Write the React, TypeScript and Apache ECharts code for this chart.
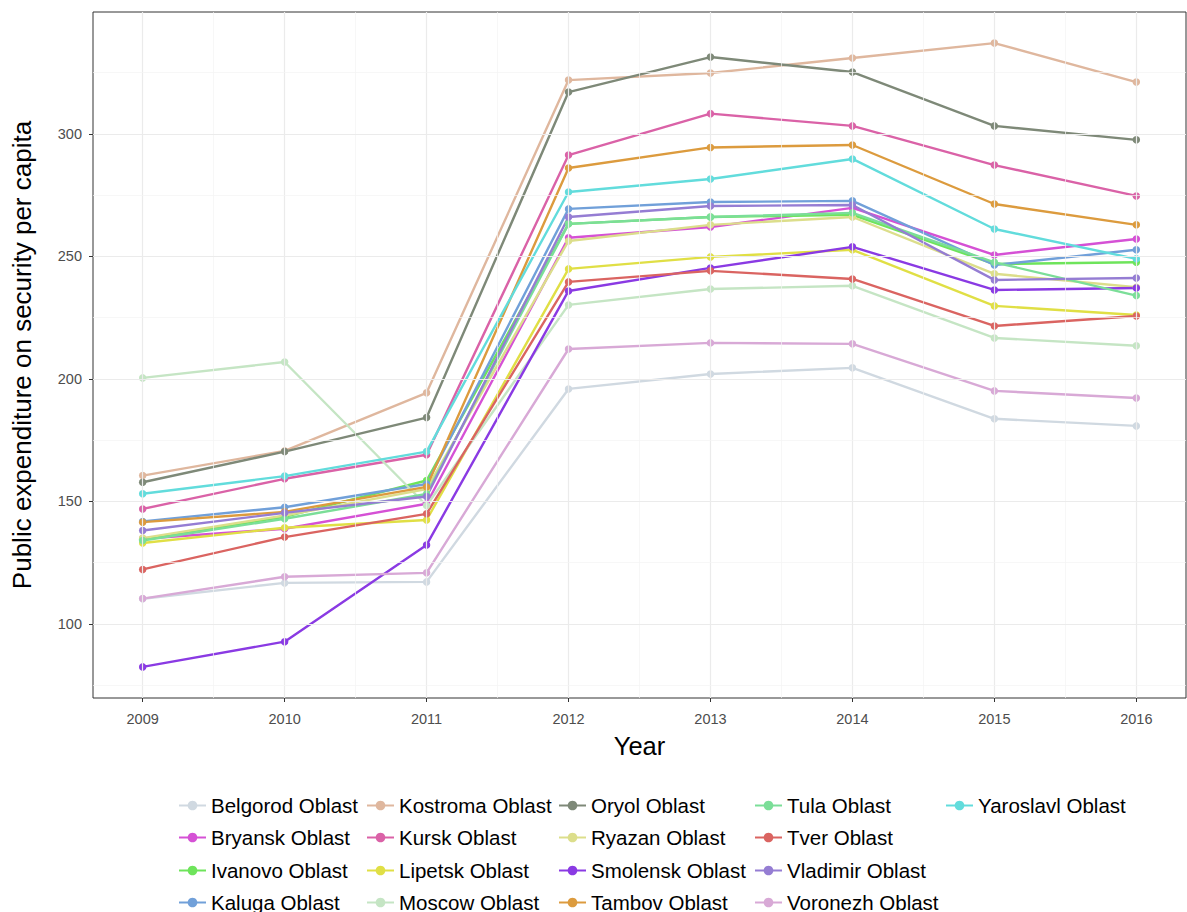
import React, { useEffect, useRef } from "react";
import * as echarts from "echarts";

const years = [2009, 2010, 2011, 2012, 2013, 2014, 2015, 2016];

const regions = [
  "Belgorod Oblast", "Bryansk Oblast", "Ivanovo Oblast", "Kaluga Oblast",
  "Kostroma Oblast", "Kursk Oblast", "Lipetsk Oblast", "Moscow Oblast",
  "Oryol Oblast", "Ryazan Oblast", "Smolensk Oblast", "Tambov Oblast",
  "Tula Oblast", "Tver Oblast", "Vladimir Oblast", "Voronezh Oblast",
  "Yaroslavl Oblast",
];

const belgorod = [110.2, 116.7, 117.1, 195.9, 202.0, 204.5, 183.7, 180.8];
const bryansk = [134.7, 138.8, 149.0, 257.6, 262.0, 269.8, 250.6, 257.1];
const ivanovo = [134.5, 143.7, 158.5, 263.3, 266.1, 267.0, 246.9, 247.6];
const kaluga = [141.8, 147.6, 157.1, 269.4, 272.2, 272.7, 246.5, 252.7];
const kostroma = [160.5, 170.6, 194.3, 322.0, 324.9, 331.0, 337.1, 321.2];
const kursk = [146.9, 159.2, 169.0, 291.4, 308.3, 303.3, 287.3, 274.7];
const lipetsk = [133.0, 139.2, 142.4, 244.9, 249.8, 252.7, 229.8, 226.1];
const moscow = [200.4, 206.9, 148.3, 230.2, 236.7, 238.0, 216.7, 213.5];
const oryol = [157.8, 170.3, 184.2, 317.1, 331.4, 325.3, 303.3, 297.6];
const ryazan = [135.0, 144.2, 155.0, 256.3, 262.9, 266.1, 242.9, 237.4];
const smolensk = [82.4, 92.7, 132.2, 235.9, 245.3, 253.9, 236.3, 237.1];
const tambov = [141.5, 145.7, 155.9, 286.1, 294.5, 295.5, 271.4, 262.9];
const tula = [134.0, 142.9, 153.0, 263.3, 266.1, 267.8, 247.6, 234.0];
const tver = [122.2, 135.4, 144.9, 239.6, 244.1, 240.8, 221.6, 225.7];
const vladimir = [138.1, 145.3, 152.0, 266.1, 270.6, 271.0, 240.4, 241.2];
const voronezh = [110.3, 119.2, 120.8, 212.2, 214.7, 214.3, 195.1, 192.2];
const yaroslavl = [153.1, 160.3, 170.3, 276.3, 281.6, 289.8, 261.2, 249.0];

const seriesValues = [
  belgorod, bryansk, ivanovo, kaluga, kostroma, kursk, lipetsk, moscow,
  oryol, ryazan, smolensk, tambov, tula, tver, vladimir, voronezh, yaroslavl,
];

const colors = [
  "#D0D9E1", "#D551D5", "#6EE45B", "#71A0D9", "#DFB79E", "#DA62A7",
  "#E0DF45", "#C5E5C4", "#7E8978", "#DCDE8B", "#8A3AE3", "#DC9B3E",
  "#7BDE98", "#DA6461", "#957DD3", "#D8A9D6", "#62DCDC",
];

const yTicks = [100, 150, 200, 250, 300];
const yMinor = [75, 125, 175, 225, 275, 325];
const xMinor = [2009.5, 2010.5, 2011.5, 2012.5, 2013.5, 2014.5, 2015.5];

// legend laid out in 4 rows, filled column by column (5 columns)
const legendRows = [0, 1, 2, 3].map((r) =>
  regions.filter((_, i) => i % 4 === r)
);
const legendRowCenters = [805, 837, 870, 902];
const legendTextWidths = [155, 159, 163, 158, 160];

export default function App() {
  const ref = useRef<HTMLDivElement>(null);
  useEffect(() => {
    if (!ref.current) return;
    const chart = echarts.init(ref.current, undefined, { renderer: "svg" });
    const font = "Liberation Sans";

    const gridLines: any[] = [];
    years.forEach((v) =>
      gridLines.push({ xAxis: v, lineStyle: { color: "#EBEBEB", width: 1.2, type: "solid" } })
    );
    xMinor.forEach((v) =>
      gridLines.push({ xAxis: v, lineStyle: { color: "#F3F3F3", width: 0.7, type: "solid" } })
    );
    yTicks.forEach((v) =>
      gridLines.push({ yAxis: v, lineStyle: { color: "#EBEBEB", width: 1.2, type: "solid" } })
    );
    yMinor.forEach((v) =>
      gridLines.push({ yAxis: v, lineStyle: { color: "#F3F3F3", width: 0.7, type: "solid" } })
    );

    const series: any[] = [
      {
        name: "__grid",
        type: "line",
        data: [],
        z: 1,
        silent: true,
        markLine: {
          silent: true,
          symbol: ["none", "none"],
          label: { show: false },
          animation: false,
          data: gridLines,
        },
      },
    ];
    regions.forEach((name, i) => {
      series.push({
        name,
        type: "line",
        z: 2,
        data: years.map((y, j) => [y, seriesValues[i][j]]),
        symbol: "circle",
        symbolSize: 7.5,
        showSymbol: true,
        lineStyle: { width: 2.4, color: colors[i] },
        itemStyle: { color: colors[i], borderWidth: 0 },
        emphasis: { disabled: true },
      });
    });

    chart.setOption({
      animation: false,
      color: colors,
      grid: {
        left: 93,
        right: 1,
        top: 12,
        bottom: 214,
        show: true,
        borderColor: "#333333",
        borderWidth: 1,
        backgroundColor: "#FFFFFF",
      },
      xAxis: {
        type: "value",
        min: 2008.65,
        max: 2016.35,
        name: "Year",
        nameLocation: "middle",
        nameGap: 35,
        nameTextStyle: { fontSize: 25.5, color: "#000", fontFamily: font },
        axisLine: { show: false },
        splitLine: { show: false },
        axisTick: {
          show: true,
          customValues: years,
          length: 4,
          lineStyle: { color: "#333333", width: 1 },
        },
        axisLabel: {
          customValues: years,
          color: "#4D4D4D",
          fontSize: 14.5,
          fontFamily: font,
          margin: 13,
          formatter: (v: number) => String(Math.round(v)),
        },
      },
      yAxis: {
        type: "value",
        min: 69.7,
        max: 349.8,
        name: "Public expenditure on security per capita",
        nameLocation: "middle",
        nameGap: 58,
        nameTextStyle: { fontSize: 26, color: "#000", fontFamily: font },
        axisLine: { show: false },
        splitLine: { show: false },
        axisTick: {
          show: true,
          customValues: yTicks,
          length: 4,
          lineStyle: { color: "#333333", width: 1 },
        },
        axisLabel: {
          customValues: yTicks,
          color: "#4D4D4D",
          fontSize: 14.5,
          fontFamily: font,
          margin: 11,
        },
      },
      legend: legendRows.map((row, r) => ({
        data: row.map((name, c) => ({
          name,
          textStyle: { width: legendTextWidths[c] },
        })),
        orient: "horizontal",
        left: 178,
        top: legendRowCenters[r] - 10,
        padding: 0,
        itemWidth: 27,
        itemHeight: 12,
        itemGap: 0,
        selectedMode: false,
        textStyle: { fontSize: 20.5, color: "#000", fontFamily: font, lineHeight: 20 },
      })),
      series,
    });
    return () => chart.dispose();
  }, []);
  return (
    <div
      ref={ref}
      style={{ position: "fixed", left: 0, top: 0, width: 1187, height: 912, background: "#fff" }}
    />
  );
}
